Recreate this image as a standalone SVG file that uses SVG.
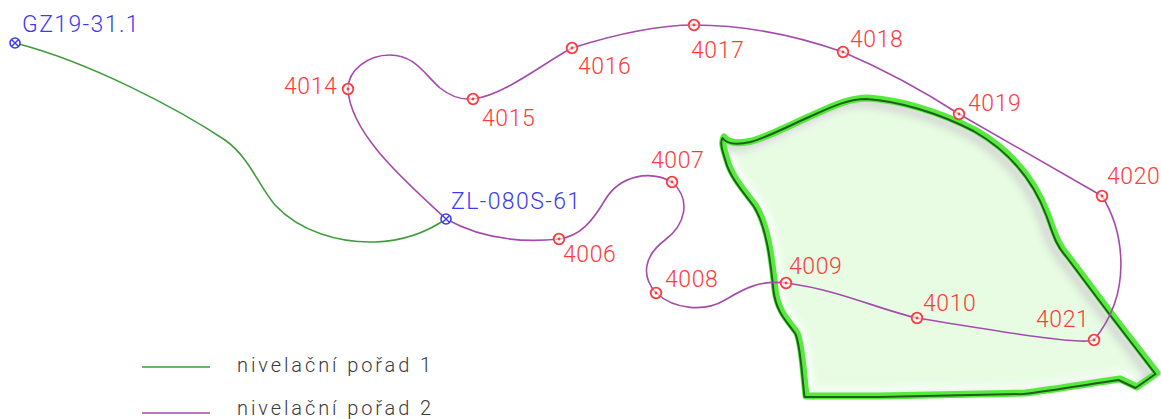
<svg xmlns="http://www.w3.org/2000/svg" xmlns:xlink="http://www.w3.org/1999/xlink" width="1161" height="419" viewBox="0 0 1161 419">
  <style>
    .lbl { font-family: Roboto, "Liberation Sans", sans-serif; font-weight: 300; font-size: 23px; letter-spacing: 0.6px; }
    .red { fill: #ff3b3b; }
    .blue { fill: #3b3bf0; letter-spacing: 1.4px; }
    .legend { font-family: Roboto, "Liberation Sans", sans-serif; font-weight: 300; font-size: 20px; letter-spacing: 2.9px; fill: #3a3a3a; }
    .route1 { fill: none; stroke: #3f9d3c; stroke-width: 1.6; }
    .route2 { fill: none; stroke: #a54bab; stroke-width: 1.6; }
  </style>
  <defs>
    <!-- levelling point: ring with centre dot -->
    <g id="pt">
      <circle r="5.3" fill="#ffffff" fill-opacity="0.6" stroke="#ff3b3b" stroke-width="1.8"/>
      <circle r="1.4" fill="#ff3b3b"/>
    </g>
    <!-- benchmark: ring with cross -->
    <g id="bm">
      <circle r="5" fill="#ffffff" stroke="#3b3bf0" stroke-width="1.6"/>
      <path d="M-3.3,-3.3 L3.3,3.3 M-3.3,3.3 L3.3,-3.3" stroke="#3b3bf0" stroke-width="1.4"/>
    </g>
    <path id="island" d="M724,137 C728,143 738,144 752,141 C770,136 790,125 815,114 C835,105 850,98 868,98 C900,100 940,112 975,130 C1010,150 1035,180 1048,215 C1055,235 1058,245 1068,256 L1110,312 L1157,373 L1137,387 L1120,379 C1080,385 1050,390 1025,393 L880,396 L806,396 C803,370 802,345 797,333 C788,320 778,312 775,290 C772,260 768,225 755,205 C742,188 731,175 727,160 C724,150 721,142 724,137 Z"/>
    <clipPath id="islandClip"><use xlink:href="#island"/></clipPath>
    <filter id="soft" x="-10%" y="-10%" width="120%" height="120%"><feGaussianBlur stdDeviation="3"/></filter>
    <filter id="softer" x="-10%" y="-10%" width="120%" height="120%"><feGaussianBlur stdDeviation="4"/></filter>
  </defs>

  <!-- area outline with bevelled rim -->
  <g id="area">
    <use xlink:href="#island" fill="#e8fce4"/>
    <g clip-path="url(#islandClip)">
      <use xlink:href="#island" fill="none" stroke="#ffffff" stroke-width="18" opacity="0.75" filter="url(#soft)"/>
      <use xlink:href="#island" fill="none" stroke="#7a7a7a" stroke-width="8" opacity="0.35" filter="url(#softer)" transform="translate(-5,4)"/>
    </g>
    <use xlink:href="#island" fill="none" stroke="#55ea3c" stroke-width="7" stroke-linejoin="round"/>
    <use xlink:href="#island" fill="none" stroke="#1f5f1c" stroke-width="2" stroke-linejoin="round" transform="translate(-1.5,1)"/>
  </g>

  <!-- levelling routes -->
  <g id="connectors">
    <path id="r1-gz-zl" class="route1" d="M15,43 C90,62 180,110 225,140 C250,158 258,185 275,205 C300,232 340,243 375,242 C405,241 430,230 446,219"/>
    <path id="r2-zl-4014" class="route2" d="M446,219 C410,185 350,135 348,89"/>
    <path id="r2-4014-4015" class="route2" d="M348,89 C348,70 368,55 390,55 C415,55 425,75 440,88 C450,96 462,100 473,99"/>
    <path id="r2-4015-4016" class="route2" d="M473,99 C505,95 545,62 572,48"/>
    <path id="r2-4016-4017" class="route2" d="M572,48 C610,36 655,25 694,25"/>
    <path id="r2-4017-4018" class="route2" d="M694,25 C750,25 800,37 843,52"/>
    <path id="r2-4018-4019" class="route2" d="M843,52 C885,70 925,92 959,114"/>
    <path id="r2-4019-4020" class="route2" d="M959,114 L1102,196"/>
    <path id="r2-4020-4021" class="route2" d="M1102,196 C1122,228 1135,290 1094,340"/>
    <path id="r2-4021-4010" class="route2" d="M1094,340 C1080,345 1010,333 917,318"/>
    <path id="r2-4010-4009" class="route2" d="M917,318 C880,310 840,290 786,283"/>
    <path id="r2-4009-4008" class="route2" d="M786,283 C760,280 745,288 725,300 C705,312 675,310 656,293"/>
    <path id="r2-4008-4007" class="route2" d="M656,293 C640,275 645,255 665,240 C685,225 692,200 672,182"/>
    <path id="r2-4007-4006" class="route2" d="M672,182 C650,170 620,175 605,200 C592,222 580,236 559,239"/>
    <path id="r2-4006-zl" class="route2" d="M559,239 C520,243 480,238 446,219"/>
  </g>

  <!-- benchmarks -->
  <g id="GZ19-31.1"><use xlink:href="#bm" x="15" y="43"/><text class="lbl blue" x="22" y="32">GZ19-31.1</text></g>
  <g id="ZL-080S-61"><use xlink:href="#bm" x="446" y="219"/><text class="lbl blue" x="451" y="209">ZL-080S-61</text></g>

  <!-- levelling points -->
  <g id="p4014"><use xlink:href="#pt" x="348" y="89"/><text class="lbl red" x="284" y="94">4014</text></g>
  <g id="p4015"><use xlink:href="#pt" x="473" y="99"/><text class="lbl red" x="482" y="126">4015</text></g>
  <g id="p4016"><use xlink:href="#pt" x="572" y="48"/><text class="lbl red" x="578" y="74">4016</text></g>
  <g id="p4017"><use xlink:href="#pt" x="694" y="25"/><text class="lbl red" x="691" y="58">4017</text></g>
  <g id="p4018"><use xlink:href="#pt" x="843" y="52"/><text class="lbl red" x="850" y="47">4018</text></g>
  <g id="p4019"><use xlink:href="#pt" x="959" y="114"/><text class="lbl red" x="968" y="111">4019</text></g>
  <g id="p4020"><use xlink:href="#pt" x="1102" y="196"/><text class="lbl red" x="1107" y="184">4020</text></g>
  <g id="p4021"><use xlink:href="#pt" x="1094" y="340"/><text class="lbl red" x="1036" y="327">4021</text></g>
  <g id="p4010"><use xlink:href="#pt" x="917" y="318"/><text class="lbl red" x="923" y="311">4010</text></g>
  <g id="p4009"><use xlink:href="#pt" x="786" y="283"/><text class="lbl red" x="789" y="274">4009</text></g>
  <g id="p4008"><use xlink:href="#pt" x="656" y="293"/><text class="lbl red" x="665" y="287">4008</text></g>
  <g id="p4007"><use xlink:href="#pt" x="672" y="182"/><text class="lbl red" x="651" y="168">4007</text></g>
  <g id="p4006"><use xlink:href="#pt" x="559" y="239"/><text class="lbl red" x="563" y="262">4006</text></g>

  <!-- legend -->
  <g id="legend">
    <line x1="142" y1="367" x2="210" y2="367" class="route1"/>
    <text class="legend" x="237" y="372">nivelační pořad 1</text>
    <line x1="142" y1="413" x2="210" y2="413" class="route2"/>
    <text class="legend" x="237" y="415">nivelační pořad 2</text>
  </g>
</svg>
